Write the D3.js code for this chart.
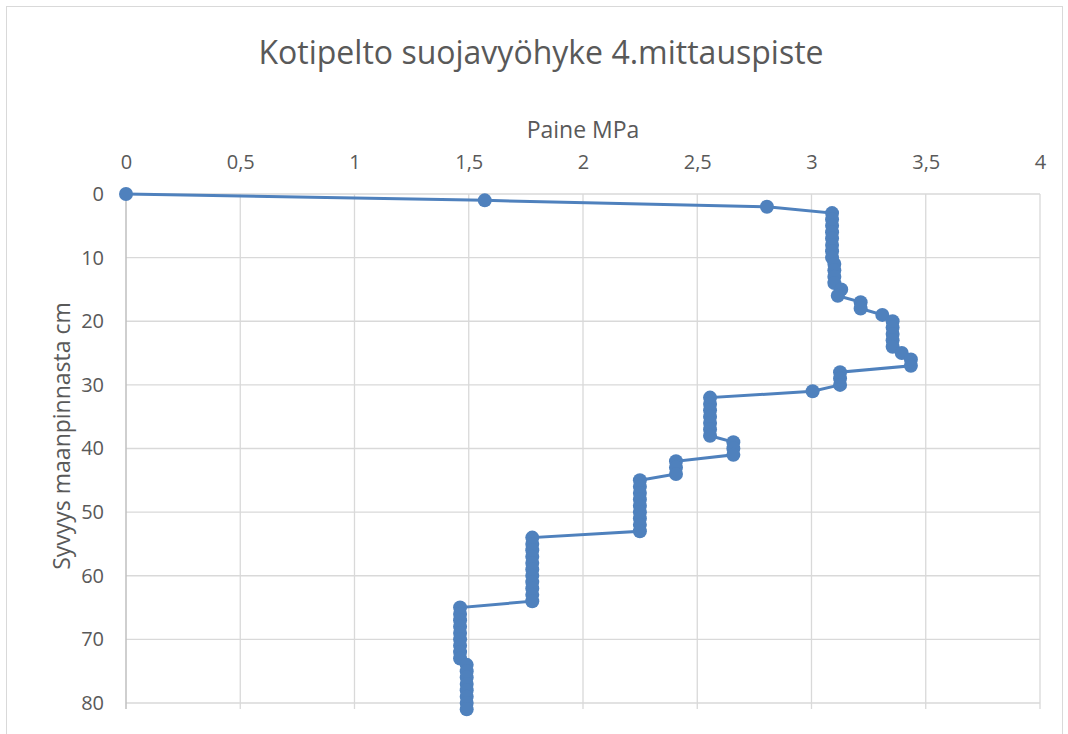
<!DOCTYPE html>
<html>
<head>
<meta charset="utf-8">
<script src="https://cdn.jsdelivr.net/npm/d3@7"></script>
<style>
  body { margin: 0; background: #fff; }
  text { font-family: "Open Sans", sans-serif; fill: #595959; }
</style>
</head>
<body>
<div id="container"></div>
<script>
// depth from surface (cm) and pressure (MPa)
var depths = [0, 1, 2, 3, 4, 5, 6, 7, 8, 9, 10, 11, 12, 13, 14, 15, 16, 17, 18, 19, 20,
              21, 22, 23, 24, 25, 26, 27, 28, 29, 30, 31, 32, 33, 34, 35, 36, 37, 38, 39, 40,
              41, 42, 43, 44, 45, 46, 47, 48, 49, 50, 51, 52, 53, 54, 55, 56, 57, 58, 59, 60,
              61, 62, 63, 64, 65, 66, 67, 68, 69, 70, 71, 72, 73, 74, 75, 76, 77, 78, 79, 80, 81];
var pressures = [0, 1.57, 2.805, 3.09, 3.09, 3.09, 3.09, 3.09, 3.09, 3.09, 3.09,
                 3.10, 3.10, 3.10, 3.10, 3.13, 3.115, 3.215, 3.215, 3.31, 3.355,
                 3.355, 3.355, 3.355, 3.355, 3.395, 3.435, 3.435, 3.125, 3.125, 3.125,
                 3.005, 2.556, 2.556, 2.556, 2.556, 2.556, 2.556, 2.556, 2.658, 2.658,
                 2.658, 2.407, 2.407, 2.407, 2.249, 2.249, 2.249, 2.249, 2.249, 2.249,
                 2.249, 2.249, 2.249, 1.778, 1.778, 1.778, 1.778, 1.778, 1.778, 1.778,
                 1.778, 1.778, 1.778, 1.778, 1.462, 1.462, 1.462, 1.462, 1.462, 1.462,
                 1.462, 1.462, 1.462, 1.491, 1.491, 1.491, 1.491, 1.491, 1.491, 1.491, 1.491];
var xTicks = [0, 0.5, 1, 1.5, 2, 2.5, 3, 3.5, 4];
var yTicks = [0, 10, 20, 30, 40, 50, 60, 70, 80];

var title = "Kotipelto suojavyöhyke 4.mittauspiste";
var xTitle = "Paine MPa";
var yTitle = "Syvyys maanpinnasta cm";

var data = depths.map((d, i) => ({depth: d, p: pressures[i]}));

var width = 1068;
var height = 734;
var margin = {left: 126, top: 194, right: 28, bottom: 31};
var blue = "#4f81bd";

const svg = d3.select("#container")
              .append("svg")
              .attr("width", width)
              .attr("height", height);

// chart border
svg.append("rect")
   .attr("x", 6.5)
   .attr("y", 6.5)
   .attr("width", 1056)
   .attr("height", 740)
   .attr("fill", "none")
   .attr("stroke", "#d9d9d9");

var xScale = d3.scaleLinear()
               .domain([0, 4])
               .range([margin.left, width - margin.right]);

var yScale = d3.scaleLinear()
               .domain([0, 80])
               .range([margin.top, height - margin.bottom]);

var fmt = (d) => String(d).replace(".", ",");

// gridlines
svg.append("g")
   .selectAll("line")
   .data(yTicks)
   .enter()
   .append("line")
   .attr("x1", xScale(0))
   .attr("x2", xScale(4))
   .attr("y1", (d) => yScale(d))
   .attr("y2", (d) => yScale(d))
   .attr("stroke", "#d9d9d9")
   .attr("stroke-width", 1.3);

svg.append("g")
   .selectAll("line")
   .data(xTicks.slice(1))
   .enter()
   .append("line")
   .attr("x1", (d) => xScale(d))
   .attr("x2", (d) => xScale(d))
   .attr("y1", yScale(0))
   .attr("y2", yScale(80) + 6)
   .attr("stroke", "#d9d9d9")
   .attr("stroke-width", 1.3);

// axes (top x axis, left y axis)
var xAxis = d3.axisTop(xScale).tickValues(xTicks).tickFormat(fmt).tickSize(0).tickPadding(25);
var yAxis = d3.axisLeft(yScale).tickValues(yTicks).tickSize(0).tickPadding(22);

var gx = svg.append("g")
   .attr("transform", "translate(0," + yScale(0) + ")")
   .call(xAxis);
gx.select(".domain").remove();

var gy = svg.append("g")
   .attr("transform", "translate(" + xScale(0) + ",0)")
   .call(yAxis);
gy.select(".domain").remove();

svg.selectAll(".tick text")
   .style("font-size", "20px")
   .style("font-family", "'Open Sans', sans-serif")
   .attr("fill", "#595959");

svg.append("line")
   .attr("x1", xScale(0))
   .attr("x2", xScale(0))
   .attr("y1", yScale(0))
   .attr("y2", yScale(80) + 6)
   .attr("stroke", "#bfbfbf")
   .attr("stroke-width", 1.5);

// series
var line = d3.line()
             .x((d) => xScale(d.p))
             .y((d) => yScale(d.depth));

svg.append("path")
   .datum(data)
   .attr("d", line)
   .attr("fill", "none")
   .attr("stroke", blue)
   .attr("stroke-width", 3);

svg.selectAll("circle")
   .data(data)
   .enter()
   .append("circle")
   .attr("cx", (d) => xScale(d.p))
   .attr("cy", (d) => yScale(d.depth))
   .attr("r", 7)
   .attr("fill", blue);

// titles
svg.append("text")
   .attr("x", 541)
   .attr("y", 64)
   .attr("text-anchor", "middle")
   .style("font-size", "32px")
   .text(title);

svg.append("text")
   .attr("x", 583)
   .attr("y", 138)
   .attr("text-anchor", "middle")
   .style("font-size", "23px")
   .text(xTitle);

svg.append("text")
   .attr("transform", "translate(70," + 436 + ") rotate(-90)")
   .attr("text-anchor", "middle")
   .style("font-size", "23px")
   .text(yTitle);
</script>
</body>
</html>
